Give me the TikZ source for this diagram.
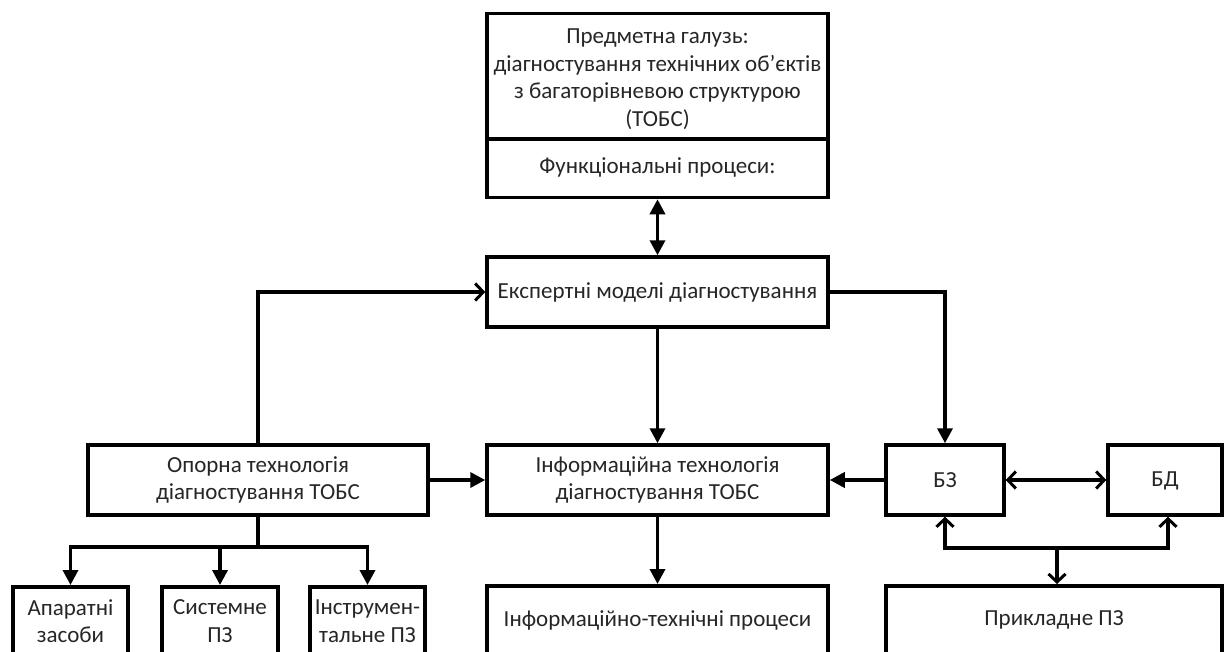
\documentclass[tikz,border=0pt]{standalone}
\usepackage{fontspec}
\setmainfont{Carlito}
\usetikzlibrary{arrows.meta}
\tikzset{
  box/.style={draw, line width=3.5pt, rectangle, inner sep=0pt},
  lbl/.style={font=\fontsize{23}{27.5}\selectfont, align=center, text=black!85},
  conn/.style={line width=3.5pt},
  tri/.style={-{Triangle[length=15pt,width=15pt]}},
  chev/.style={-{Straight Barb[length=8pt,width=17pt,line width=3pt]}},
}
\begin{document}
\begin{tikzpicture}[x=1pt,y=-1pt]
\useasboundingbox (0,0) rectangle (1226,651);
\clip (0,0) rectangle (1226,651);
% top box
\node[box, minimum width=341, minimum height=184] (top) at (657.5,105.5) {};
\draw[line width=3.5pt] (487,139) -- (828,139);
\node[lbl] (toptext) at (657.5,79) {Предметна галузь:\\діагностування технічних об’єктів\\з багаторівневою структурою\\(ТОБС)};
\node[lbl] (func) at (657.5,167) {Функціональні процеси:};
% expert
\node[box, minimum width=341, minimum height=70] (exp) at (657.5,292) {};
\node[lbl] (exptext) at (657.5,292) {Експертні моделі діагностування};
% row 2
\node[box, minimum width=340, minimum height=70] (op) at (258,480) {};
\node[lbl] (optext) at (258,480) {Опорна технологія\\діагностування ТОБС};
\node[box, minimum width=341, minimum height=70] (inf) at (657.5,480) {};
\node[lbl] (inftext) at (657.5,480) {Інформаційна технологія\\діагностування ТОБС};
\node[box, minimum width=118, minimum height=70] (bz) at (945,480) {};
\node[lbl] (bztext) at (945,480) {БЗ};
\node[box, minimum width=114, minimum height=70] (bd) at (1165,480) {};
\node[lbl] (bdtext) at (1165,481) {БД};
% bottom row
\node[box, minimum width=115, minimum height=100, anchor=north] (app) at (70.5,585) {};
\node[lbl] (apptext) at (70.5,621) {Апаратні\\засоби};
\node[box, minimum width=116, minimum height=100, anchor=north] (sys) at (220,585) {};
\node[lbl] (systext) at (220,621) {Системне\\ПЗ};
\node[box, minimum width=115, minimum height=100, anchor=north] (ins) at (367.5,585) {};
\node[lbl] (instext) at (367.5,621) {Інструмен-\\тальне ПЗ};
\node[box, minimum width=341, minimum height=100, anchor=north] (itp) at (657.5,584) {};
\node[lbl] (itptext) at (657.5,620) {Інформаційно-технічні процеси};
\node[box, minimum width=336, minimum height=100, anchor=north] (pz) at (1054,584) {};
\node[lbl] (pztext) at (1054,620) {Прикладне ПЗ};
% junction coordinates
\coordinate (opbus) at (258,547);
\coordinate (pzbus) at (1057,548);
% connectors
\draw[conn, {Triangle[length=15pt,width=15pt]}-{Triangle[length=15pt,width=15pt]}] (top.south) -- (exp.north);
\draw[conn, chev] (op.north) |- (exp.west);
\draw[conn, tri] (exp.east) -| (bz.north);
\draw[conn, tri] (exp.south) -- (inf.north);
\draw[conn, tri] (op.east) -- (inf.west);
\draw[conn, tri] (bz.west) -- (inf.east);
\draw[conn, {Straight Barb[length=8pt,width=17pt,line width=3pt]}-{Straight Barb[length=8pt,width=17pt,line width=3pt]}] (bz.east) -- (bd.west);
\draw[conn, tri] (inf.south) -- (itp.north);
% opora bus
\draw[conn] (op.south) -- (opbus);
\draw[conn, tri] (opbus) -| (app.north);
\draw[conn, tri] (opbus) -| (ins.north);
\draw[conn, tri] (sys.north |- opbus) -- (sys.north);
% right bus
\draw[conn, chev] (pzbus) -| (bz.south);
\draw[conn, chev] (pzbus) -| ([xshift=3pt]bd.south);
\draw[conn, chev] (pzbus) -- (pzbus |- pz.north);
\end{tikzpicture}
\end{document}
